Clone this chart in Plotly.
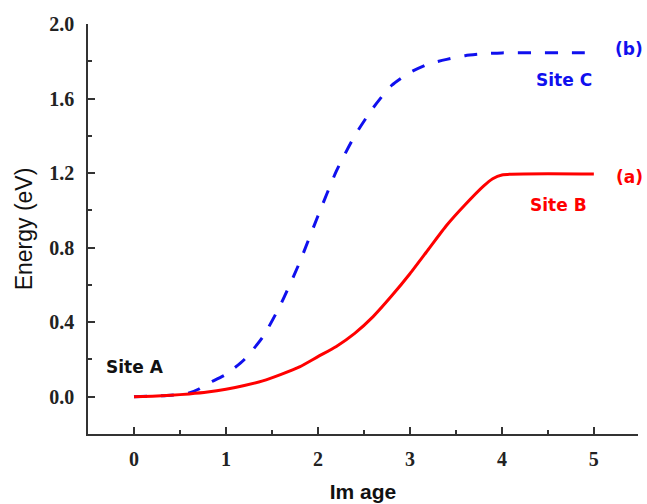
import plotly.graph_objects as go

# Data
image_a = [0, 0.2, 0.4, 0.6, 0.8, 1.0, 1.2, 1.4, 1.6, 1.8, 2.0, 2.2, 2.4, 2.6, 2.8, 3.0, 3.2, 3.4, 3.6, 3.8, 3.9, 4.0, 5.0]
energy_a = [0, 0.003, 0.008, 0.015, 0.025, 0.04, 0.06, 0.085, 0.12, 0.16, 0.215, 0.27, 0.34, 0.43, 0.54, 0.66, 0.79, 0.92, 1.03, 1.13, 1.17, 1.19, 1.195]

image_b = [0, 0.2, 0.4, 0.6, 0.7, 0.8, 1.0, 1.2, 1.4, 1.6, 1.8, 2.0, 2.2, 2.4, 2.6, 2.8, 3.0, 3.2, 3.4, 3.6, 3.8, 4.0, 5.0]
energy_b = [0, 0.003, 0.008, 0.02, 0.04, 0.07, 0.12, 0.20, 0.32, 0.50, 0.72, 0.97, 1.21, 1.40, 1.55, 1.67, 1.74, 1.785, 1.81, 1.83, 1.84, 1.845, 1.845]

x_ticks = [0, 1, 2, 3, 4, 5]
y_ticks = [0.0, 0.4, 0.8, 1.2, 1.6, 2.0]

fig = go.Figure()
fig.add_trace(go.Scatter(x=image_b, y=energy_b, mode="lines",
                         line=dict(color="#1010ee", width=3, dash="13px,14px", shape="spline", smoothing=0.6), showlegend=False))
fig.add_trace(go.Scatter(x=image_a, y=energy_a, mode="lines",
                         line=dict(color="#ff0000", width=3, shape="spline", smoothing=0.6), showlegend=False))

ann_font = dict(family="DejaVu Sans", size=17)
fig.add_annotation(x=0.01, y=0.16, text="<b>Site A</b>", showarrow=False, font=dict(color="#111111", **ann_font))
fig.add_annotation(x=4.62, y=1.03, text="<b>Site B</b>", showarrow=False, font=dict(color="#ff0000", **ann_font))
fig.add_annotation(x=4.67, y=1.70, text="<b>Site C</b>", showarrow=False, font=dict(color="#1010ee", **ann_font))
fig.add_annotation(x=5.39, y=1.18, text="<b>(a)</b>", showarrow=False, font=dict(color="#ff0000", **ann_font))
fig.add_annotation(x=5.38, y=1.865, text="<b>(b)</b>", showarrow=False, font=dict(color="#1010ee", **ann_font))

tick_font = dict(family="Liberation Serif, Times New Roman", size=20, color="#222222")
fig.update_xaxes(range=[-0.5, 5.48], tickvals=x_ticks, ticktext=[f"<b>{v}</b>" for v in x_ticks],
                 showline=True, linecolor="#333333", linewidth=1.5, ticks="inside", ticklen=7, tickwidth=1.5,
                 tickcolor="#333333", showgrid=False, zeroline=False, tickfont=tick_font, ticklabelstandoff=6,
                 automargin=False,
                 minor=dict(tickvals=[0.5, 1.5, 2.5, 3.5, 4.5], ticks="inside", ticklen=4, tickwidth=1.5, tickcolor="#333333"),
                 title=dict(text="<b>Im age</b>", font=dict(family="Liberation Sans, Arial", size=21, color="#111111"), standoff=16))
fig.update_yaxes(range=[-0.2, 2.0], tickvals=y_ticks, ticktext=[f"<b>{v:.1f}</b>" for v in y_ticks],
                 showline=True, linecolor="#333333", linewidth=1.5, ticks="inside", ticklen=7, tickwidth=1.5,
                 tickcolor="#333333", showgrid=False, zeroline=False, tickfont=tick_font, ticklabelstandoff=8,
                 automargin=False,
                 minor=dict(tickvals=[0.2, 0.6, 1.0, 1.4, 1.8], ticks="inside", ticklen=4, tickwidth=1.5, tickcolor="#333333"),
                 title=dict(text="Energy (eV)", font=dict(family="Liberation Sans, Arial", size=23, color="#111111"), standoff=10))

fig.update_layout(width=647, height=504, margin=dict(l=88, r=9, t=24, b=70),
                  plot_bgcolor="white", paper_bgcolor="white")
fig.write_html("out.html")
